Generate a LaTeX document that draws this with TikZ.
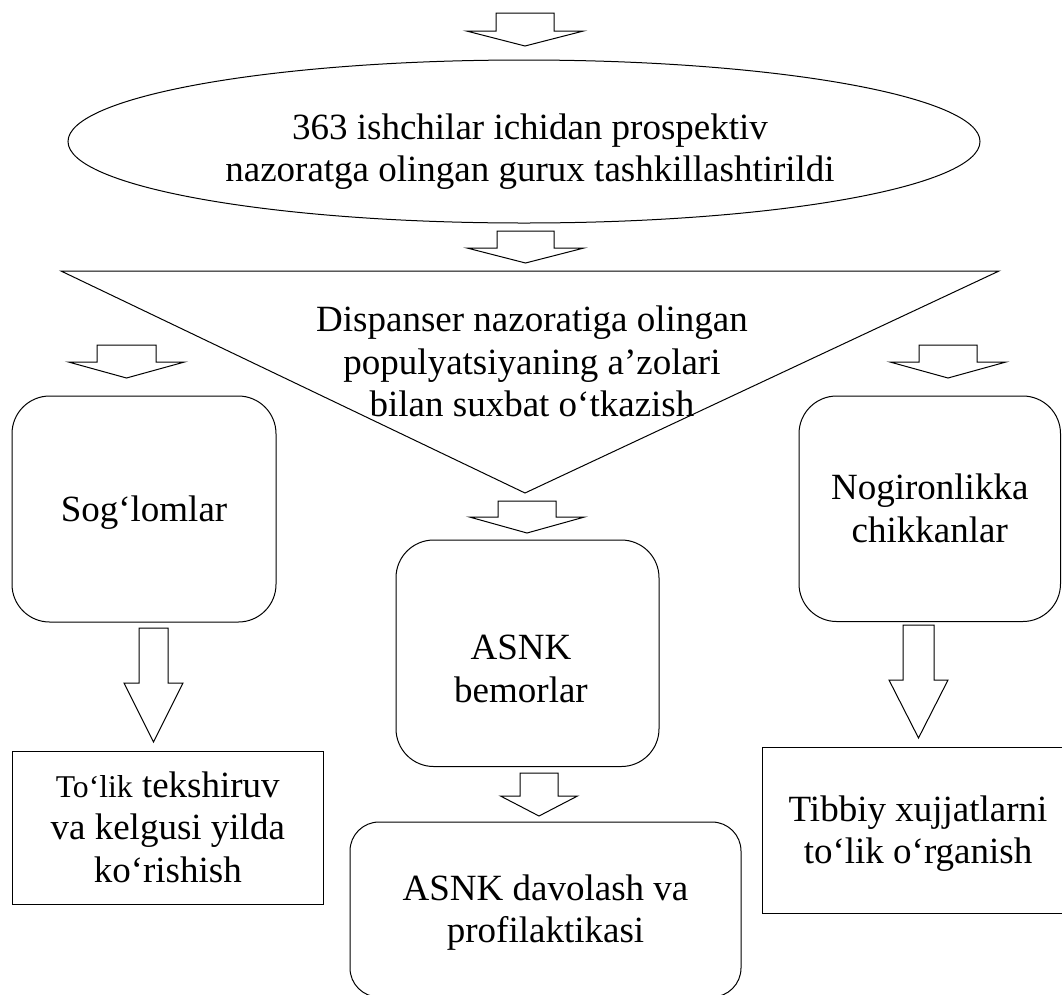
\documentclass[tikz,border=0pt]{standalone}
\usepackage{fontspec}
\setmainfont{Liberation Serif}
\usetikzlibrary{shapes.geometric}
\newcommand\ws{\rule[-9.25pt]{0pt}{42.5pt}}
% #1 centre x, #2 shaft half width, #3 head half width, #4 top y, #5 shoulder y, #6 tip y
\newcommand\bkarrow[6]{%
  \draw[barrow] ({#1-#2},#4) -- ({#1+#2},#4) -- ({#1+#2},#5) -- ({#1+#3},#5)
    -- (#1,#6) -- ({#1-#3},#5) -- ({#1-#2},#5) -- cycle;}
\begin{document}
\begin{tikzpicture}[x=1pt,y=-1pt,
  line/.style={draw=black, line width=1pt},
  barrow/.style={line, fill=white, line join=miter},
  txt/.style={inner sep=0pt, align=center, font=\fontsize{37}{42.5}\selectfont},
  rrect/.style={line, txt, rounded corners=#1},
  srect/.style={line, txt}]
\useasboundingbox (0,0) rectangle (1062,994);

% top ellipse
\node[line, ellipse, inner sep=0pt, minimum width=912pt, minimum height=163pt] (ell) at (524,141.5) {};
\node[txt] (ellT) at (530,148.25) {\ws 363 ishchilar ichidan prospektiv\\\ws nazoratga olingan gurux tashkillashtirildi};

% inverted triangle
\coordinate (tl) at (61,271);
\coordinate (tr) at (999,271);
\coordinate (tb) at (525,493);
\draw[line, line join=miter] (tl) -- (tr) -- (tb) -- cycle;
\node[txt] (triT) at (532,362) {\ws Dispanser nazoratiga olingan\\\ws populyatsiyaning a’zolari\\\ws bilan suxbat o‘tkazish};

% rounded boxes
\node[rrect=37.7pt, minimum width=264pt, minimum height=226pt] (sog) at (144,509) {\ws Sog‘lomlar};
\node[rrect=37.7pt, minimum width=261.5pt, minimum height=225.5pt] (nog) at (929.75,508.75) {\ws Nogironlikka\\\ws chikkanlar};
\node[rrect=37.7pt, minimum width=263pt, minimum height=226.5pt] (asnk) at (527.5,653.25) {};
\node[txt] (asnkT) at (521,669) {\ws ASNK\\\ws bemorlar};
\node[rrect=29pt, minimum width=391pt, minimum height=175pt] (dav) at (545.5,909.5) {\ws ASNK davolash va\\\ws profilaktikasi};

% square boxes
\node[srect, minimum width=311.5pt, minimum height=153pt] (tol) at (167.75,827.5)
  {\ws{\fontsize{31.7}{42.5}\selectfont To‘lik} tekshiruv\\\ws va kelgusi yilda\\\ws ko‘rishish};
\node[srect, minimum width=312pt, minimum height=165.5pt] (tib) at (918,830.25)
  {\ws Tibbiy xujjatlarni\\\ws to‘lik o‘rganish};

% block arrows
\bkarrow{525}{29}{58.5}{13}{31}{46}
\bkarrow{525.5}{28.5}{58.5}{231}{248}{263}
\bkarrow{126.5}{29.5}{58}{345}{362}{378}
\bkarrow{948}{29}{58}{345}{362}{378}
\bkarrow{527}{29}{57.5}{501}{517}{533}
\bkarrow{539}{19}{38.5}{773}{796}{816}
\bkarrow{153.5}{14.5}{29.5}{628}{683}{742}
\bkarrow{918.5}{15.5}{29.5}{625}{680}{738}
\end{tikzpicture}
\end{document}
